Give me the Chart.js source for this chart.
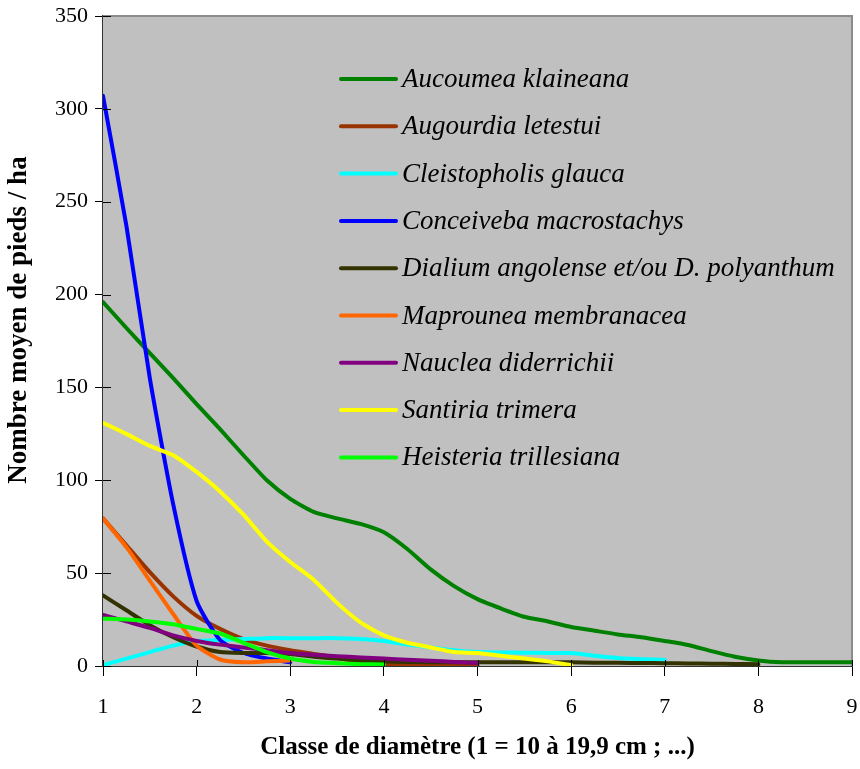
<!DOCTYPE html>
<html>
<head>
<meta charset="utf-8">
<script src="https://cdn.jsdelivr.net/npm/chart.js@4/dist/chart.umd.min.js"></script>
<style>
  html, body { margin: 0; padding: 0; background: #fff; }
  canvas { display: block; }
</style>
</head>
<body>
<canvas id="c" width="860" height="769"></canvas>
<script>
// Diameter classes (1 = 10 to 19.9 cm, ...), sampled every quarter class
const classes = [1, 1.25, 1.5, 1.75, 2, 2.25, 2.5, 2.75, 3, 3.25, 3.5, 3.75, 4, 4.25, 4.5, 4.75,
                 5, 5.25, 5.5, 5.75, 6, 6.25, 6.5, 6.75, 7, 7.25, 7.5, 7.75, 8, 8.25, 8.5, 8.75, 9];

// Mean number of stems per hectare for each species
const aucoumea     = [196, 182, 168.5, 155, 141, 127.5, 113.5, 100, 90, 83, 79.5, 76.5, 72, 63, 52, 43,
                      36, 31, 26.5, 24, 21, 19, 17, 15.5, 13.5, 11.3, 8, 5, 3, 2, 2, 2, 2];
const augourdia    = [79.5, 65, 50.5, 37.5, 27, 20, 14.5, 11, 8.5, 6.5, 4.5, 2, 1, 0.7, 0.5, 0.5, 0.5];
const cleistopholis= [0.5, 4, 7.5, 11, 13.5, 14, 14.5, 15, 15, 15, 15, 14.5, 13.5, 11.5, 10, 8.5,
                      7.5, 7.3, 7.2, 7, 7, 5.5, 4.3, 3.7, 3.2];
const conceiveba   = [307, 237, 155, 87, 35, 14, 7, 4, 2];
const dialium      = [38, 30, 22, 15.5, 10.5, 7.5, 7, 7, 6.5, 5, 4, 3, 2.5, 2.2, 2, 2,
                      2, 2, 2, 2, 2, 1.8, 1.7, 1.6, 1.5, 1.4, 1.2, 1.1, 1];
const maprounea    = [79.5, 64, 46, 28, 11, 3.5, 2, 2.5, 3];
const nauclea      = [27.5, 24, 20.5, 16.5, 13.5, 11.5, 10, 8.5, 7, 6, 5.3, 4.6, 4, 3.4, 2.8, 2.2, 1.6];
const santiria     = [131, 125, 118.5, 113.5, 104.5, 94, 81.5, 67, 56, 46.5, 34, 23.5, 16.5, 12.5, 10, 7.5,
                      7, 5.5, 4, 2.5, 0.5];
const heisteria    = [25.5, 25, 24, 22.5, 20, 17.5, 12.5, 7.5, 4, 2.2, 1.5, 1, 0.8];

const speciesNames = ['Aucoumea klaineana', 'Augourdia letestui', 'Cleistopholis glauca',
  'Conceiveba macrostachys', 'Dialium angolense et/ou D. polyanthum', 'Maprounea membranacea',
  'Nauclea diderrichii', 'Santiria trimera', 'Heisteria trillesiana'];
const speciesValues = [aucoumea, augourdia, cleistopholis, conceiveba, dialium, maprounea,
  nauclea, santiria, heisteria];
const speciesColors = ['#008000', '#993300', '#00FFFF', '#0000FF', '#333300', '#FF6600',
  '#800080', '#FFFF00', '#00FF00'];

const yTicks = [0, 50, 100, 150, 200, 250, 300, 350];
const xTicks = [1, 2, 3, 4, 5, 6, 7, 8, 9];
const xTitle = 'Classe de diamètre (1 = 10 à 19,9 cm ; ...)';
const yTitle = 'Nombre moyen de pieds / ha';

const SERIF = '"Liberation Serif", "Times New Roman", serif';

const datasets = speciesNames.map((name, i) => ({
  label: name,
  data: speciesValues[i].map((v, k) => ({ x: classes[k], y: v })),
  borderColor: speciesColors[i],
  backgroundColor: speciesColors[i],
  borderWidth: 4,
  pointRadius: 0,
  tension: 0.2,
  borderCapStyle: 'round',
  borderJoinStyle: 'round',
  fill: false,
  order: speciesNames.length - i
}));

// Grey plot area, frame, crossing tick marks, axis titles and the legend
const framePlugin = {
  id: 'frame',
  beforeDatasetsDraw(chart) {
    const { ctx, chartArea: a } = chart;
    ctx.save();
    ctx.fillStyle = '#C0C0C0';
    ctx.fillRect(a.left, a.top, a.right - a.left, a.bottom - a.top);
    ctx.strokeStyle = '#8c8c8c';
    ctx.lineWidth = 2;
    ctx.beginPath();
    ctx.moveTo(a.left, a.top);
    ctx.lineTo(a.right, a.top);
    ctx.lineTo(a.right, a.bottom);
    ctx.stroke();
    ctx.restore();
  },
  afterDatasetsDraw(chart) {
    const { ctx, chartArea: a, scales } = chart;
    ctx.save();
    // inner halves of the tick marks
    ctx.strokeStyle = '#000';
    ctx.lineWidth = 1;
    ctx.beginPath();
    yTicks.forEach(v => {
      const py = Math.round(scales.y.getPixelForValue(v)) + 0.5;
      ctx.moveTo(a.left, py); ctx.lineTo(a.left + 8, py);
    });
    xTicks.forEach(v => {
      const px = Math.round(scales.x.getPixelForValue(v)) + 0.5;
      ctx.moveTo(px, a.bottom); ctx.lineTo(px, a.bottom - 6);
    });
    ctx.stroke();

    // legend
    ctx.font = 'italic 27px ' + SERIF;
    ctx.textBaseline = 'middle';
    ctx.textAlign = 'left';
    speciesNames.forEach((name, i) => {
      const y = 79 + i * 47.3;
      ctx.strokeStyle = speciesColors[i];
      ctx.lineWidth = 4;
      ctx.lineCap = 'round';
      ctx.beginPath();
      ctx.moveTo(341, y); ctx.lineTo(396, y);
      ctx.stroke();
      ctx.fillStyle = '#000';
      ctx.fillText(name, 402, y + 1, 436);
    });

    // axis titles
    ctx.fillStyle = '#000';
    ctx.textAlign = 'center';
    ctx.textBaseline = 'middle';
    ctx.font = 'bold 25px ' + SERIF;
    ctx.fillText(xTitle, (a.left + a.right) / 2, 748, 444);
    ctx.font = 'bold 27px ' + SERIF;
    ctx.translate(19, 320);
    ctx.rotate(-Math.PI / 2);
    ctx.fillText(yTitle, 0, 0, 340);
    ctx.restore();
  }
};

new Chart(document.getElementById('c'), {
  type: 'line',
  data: { datasets },
  options: {
    responsive: false,
    animation: false,
    devicePixelRatio: 1,
    layout: { padding: { top: 16, right: 8, left: 0, bottom: 0 } },
    plugins: { legend: { display: false }, tooltip: { enabled: false } },
    scales: {
      x: {
        type: 'linear', min: 1, max: 9,
        afterFit: s => { s.height = 103; s.paddingLeft = 0; s.paddingRight = 0; },
        afterBuildTicks: s => { s.ticks = xTicks.map(v => ({ value: v })); },
        ticks: { color: '#000', font: { family: SERIF, size: 22 }, padding: 18 },
        grid: { drawOnChartArea: false, tickLength: 10, color: '#000' },
        border: { color: '#333', width: 2 }
      },
      y: {
        min: 0, max: 350,
        afterFit: s => { s.width = 103; s.paddingTop = 0; s.paddingBottom = 0; },
        afterBuildTicks: s => { s.ticks = yTicks.map(v => ({ value: v })); },
        ticks: { color: '#000', font: { family: SERIF, size: 22 }, padding: 7 },
        grid: { drawOnChartArea: false, tickLength: 8, color: '#000' },
        border: { color: '#333', width: 2 }
      }
    }
  },
  plugins: [framePlugin]
});
</script>
</body>
</html>
